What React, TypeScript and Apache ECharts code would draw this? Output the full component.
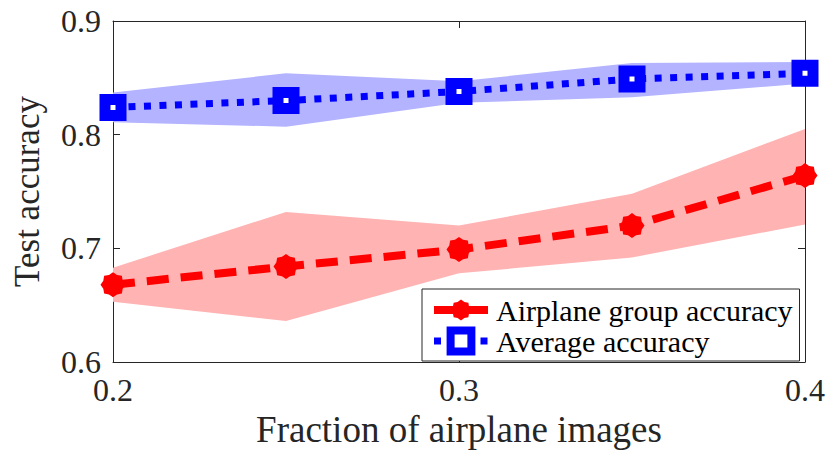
import React, { useEffect, useRef } from "react";
import * as echarts from "echarts";

const fractions = [0.2, 0.25, 0.3, 0.35, 0.4];
const airplaneMean = [0.668, 0.684, 0.699, 0.72, 0.764];
const airplaneUpper = [0.683, 0.732, 0.72, 0.748, 0.805];
const airplaneLower = [0.653, 0.636, 0.678, 0.692, 0.721];
const averageMean = [0.824, 0.83, 0.838, 0.849, 0.854];
const averageUpper = [0.837, 0.854, 0.847, 0.863, 0.864];
const averageLower = [0.811, 0.807, 0.828, 0.833, 0.845];
const xTicks = [0.2, 0.3, 0.4];
const yTicks = [0.6, 0.7, 0.8, 0.9];
const seriesNames = ["Airplane group accuracy", "Average accuracy"];

const FONT = "Liberation Serif";
const INK = "#262626";
const STAR =
  "path://M100,50 L88.8,66.1 L85.4,85.4 L66.1,88.8 L50,100 L33.9,88.8 L14.6,85.4 L11.2,66.1 L0,50 L11.2,33.9 L14.6,14.6 L33.9,11.2 L50,0 L66.1,11.2 L85.4,14.6 L88.8,33.9 Z";

function bandSeries(lower: number[], upper: number[], color: string) {
  return {
    type: "custom",
    silent: true,
    z: 1,
    data: fractions.map((x, i) => [x, lower[i], upper[i]]),
    encode: { x: 0, y: [1, 2] },
    renderItem: (params: any, api: any) => {
      if (params.dataIndex !== 0) return null;
      const top = fractions.map((x, i) => api.coord([x, upper[i]]));
      const bottom = fractions
        .map((x, i) => api.coord([x, lower[i]]))
        .reverse();
      return {
        type: "polygon",
        shape: { points: top.concat(bottom) },
        style: { fill: color, stroke: "none" },
      };
    },
  };
}

export default function App() {
  const ref = useRef<HTMLDivElement>(null);
  useEffect(() => {
    if (!ref.current) return;
    const chart = echarts.init(ref.current, undefined, { renderer: "svg" });
    const pair = (ys: number[]) => fractions.map((x, i) => [x, ys[i]]);
    const axisCommon = {
      type: "value" as const,
      axisLine: { show: true, lineStyle: { color: INK, width: 1 } },
      axisTick: { show: true, inside: true, length: 7, lineStyle: { color: INK } },
      splitLine: { show: false },
    };
    const xBase = {
      ...axisCommon,
      min: xTicks[0],
      max: xTicks[xTicks.length - 1],
      interval: 0.1,
    };
    const yBase = {
      ...axisCommon,
      min: yTicks[0],
      max: yTicks[yTicks.length - 1],
      interval: 0.1,
    };
    chart.setOption({
      animation: false,
      grid: { left: 113, right: 26, top: 21, bottom: 95 },
      xAxis: [
        {
          ...xBase,
          position: "bottom",
          name: "Fraction of airplane images",
          nameLocation: "middle",
          nameGap: 36,
          nameTextStyle: { fontFamily: FONT, fontSize: 37, color: INK },
          axisLabel: {
            fontFamily: FONT,
            fontSize: 32,
            color: INK,
            margin: 12,
            formatter: (v: number) => v.toFixed(1),
          },
        },
        { ...xBase, position: "top", axisLabel: { show: false } },
      ],
      yAxis: [
        {
          ...yBase,
          position: "left",
          name: "Test accuracy",
          nameLocation: "middle",
          nameGap: 68,
          nameTextStyle: { fontFamily: FONT, fontSize: 35, color: INK },
          axisLabel: {
            fontFamily: FONT,
            fontSize: 32,
            color: INK,
            margin: 12,
            formatter: (v: number) => v.toFixed(1),
          },
        },
        { ...yBase, position: "right", axisLabel: { show: false } },
      ],
      legend: {
        data: [
          {
            name: seriesNames[0],
            lineStyle: { width: 8, type: "solid", color: "#ff0000" },
          },
          {
            name: seriesNames[1],
            lineStyle: { width: 7, type: [7, 8.5], color: "#0000ff" },
            itemStyle: { borderWidth: 8, borderColor: "#0000ff", color: "#ffffff" },
          },
        ],
        orient: "vertical",
        left: 422,
        top: 289,
        padding: [6, 7, 5, 8],
        itemGap: 1,
        itemWidth: 54,
        itemHeight: 26,
        backgroundColor: "#ffffff",
        borderColor: INK,
        borderWidth: 1,
        textStyle: {
          fontFamily: FONT,
          fontSize: 30,
          lineHeight: 26,
          color: "#000",
          padding: [0, 0, 0, 3],
        },
      },
      series: [
        bandSeries(airplaneLower, airplaneUpper, "#ffb3b3"),
        bandSeries(averageLower, averageUpper, "#b3b3ff"),
        {
          name: seriesNames[0],
          type: "line",
          data: pair(airplaneMean),
          symbol: STAR,
          symbolSize: 25,
          itemStyle: { color: "#ff0000", borderWidth: 0 },
          lineStyle: { color: "#ff0000", width: 8, type: [22, 12], cap: "butt" },
          z: 3,
        },
        {
          name: seriesNames[1],
          type: "line",
          data: pair(averageMean),
          symbol: "rect",
          symbolSize: 16,
          itemStyle: { color: "#ffffff", borderColor: "#0000ff", borderWidth: 11 },
          lineStyle: { color: "#0000ff", width: 7, type: [7, 8.5], cap: "butt" },
          z: 4,
        },
      ],
    });
    return () => chart.dispose();
  }, []);
  return (
    <div
      ref={ref}
      style={{ position: "absolute", left: 0, top: 0, width: 831, height: 457 }}
    />
  );
}
